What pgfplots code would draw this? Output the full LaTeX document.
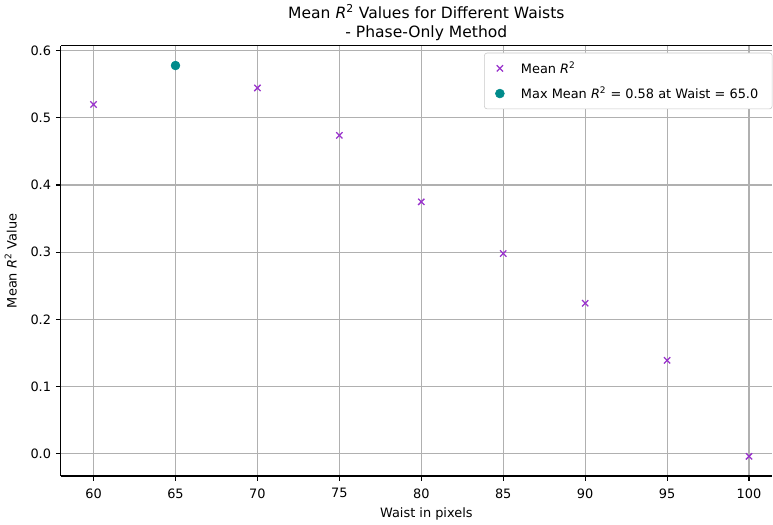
\documentclass[border=0pt]{standalone}
\usepackage{pgfplots}
\pgfplotsset{compat=1.18}
\usepackage{fontspec}
\setmainfont{DejaVu Sans}
\definecolor{xcol}{HTML}{9932CC}
\definecolor{dotcol}{HTML}{008B8B}
\definecolor{gridc}{HTML}{B0B0B0}
\begin{document}
\begin{tikzpicture}
\begin{axis}[
  scale only axis, width=512.9pt, height=310.1pt,
  xmin=58, xmax=101.43, ymin=-0.0333, ymax=0.6074,
  axis x line*=bottom, axis y line*=left,
  xtick={60,65,...,100},
  ytick={0,0.1,...,0.6},
  yticklabel style={/pgf/number format/fixed,/pgf/number format/fixed zerofill,/pgf/number format/precision=1},
  /pgf/number format/assume math mode=true,
  tick align=outside,
  major tick length=3.5pt,
  tick style={black, line width=0.8pt},
  ticklabel style={font=\fontsize{9.3}{11}\selectfont},
  xticklabel style={yshift=-2pt},
  xmajorgrids, ymajorgrids,
  grid style={gridc, line width=0.8pt},
  axis line style={black, line width=0.8pt, -},
  title={Mean \textit{R}\textsuperscript{2} Values for Different Waists\\- Phase-Only Method},
  title style={font=\fontsize{11.2}{14}\selectfont, align=center, yshift=-6pt, xshift=7pt},
  xlabel={Waist in pixels},
  ylabel={Mean \textit{R}\textsuperscript{2} Value},
  label style={font=\fontsize{9.3}{11}\selectfont},
  xlabel style={yshift=0pt, xshift=7pt},
  ylabel style={yshift=3pt},
  legend style={at={(1,1)}, anchor=north east, xshift=0pt, yshift=-5pt,
    draw=gridc!70, rounded corners=2pt, font=\fontsize{9.3}{11}\selectfont,
    row sep=4pt, inner xsep=8pt, inner ysep=4pt},
  legend cell align=left,
]
\draw[black, line width=0.8pt] (rel axis cs:0,1) -- (rel axis cs:1,1);
\addplot[only marks, mark=x, mark size=3.2pt, xcol, line width=0.9pt] coordinates {
(60,0.520) (70,0.5446) (75,0.474) (80,0.375) (85,0.298) (90,0.224) (95,0.139) (100,-0.004)
};
\addlegendentry{\hspace{10pt}Mean \textit{R}\textsuperscript{2}}
\addplot[only marks, mark=*, mark size=3.2pt, dotcol, mark options={draw=dotcol, fill=dotcol}] coordinates {
(65,0.578)
};
\addlegendentry{\hspace{10pt}Max Mean \textit{R}\textsuperscript{2} = 0.58 at Waist = 65.0}
\end{axis}
\end{tikzpicture}
\end{document}
